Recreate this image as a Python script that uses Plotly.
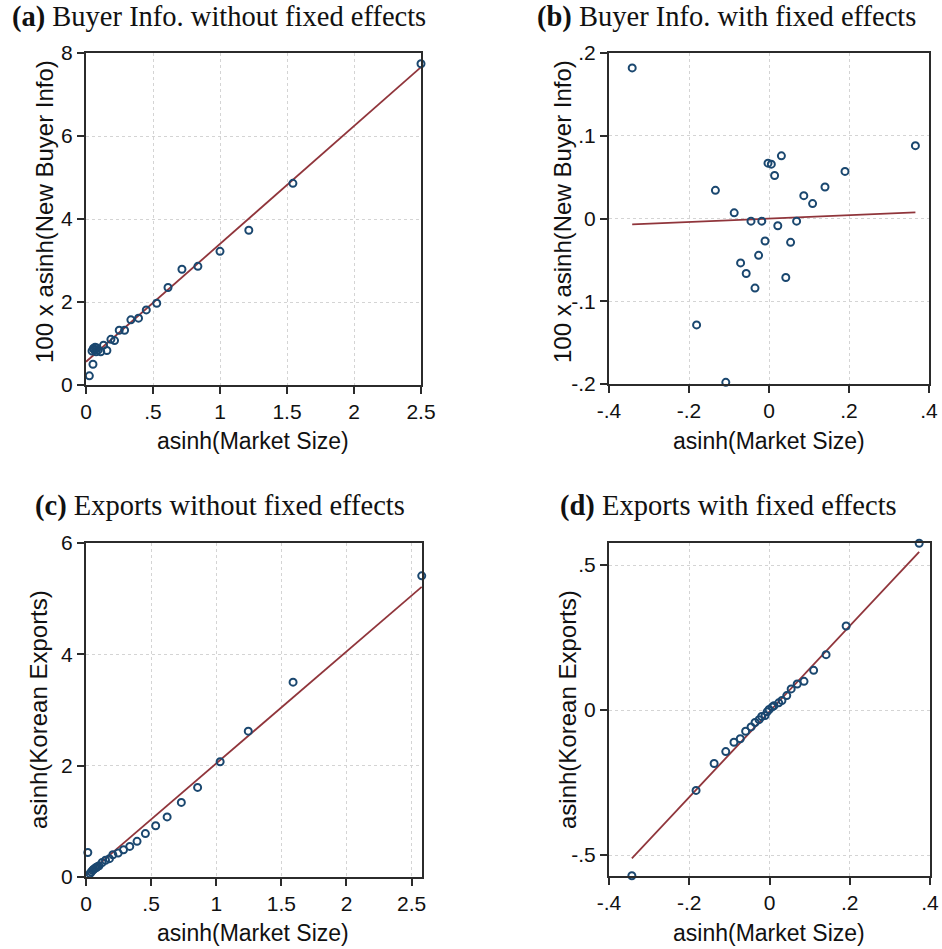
import numpy as np
import plotly.graph_objects as go

# ---------------- data ----------------
# (a) Buyer Info. without fixed effects
a_x = [0.025, 0.052, 0.045, 0.055, 0.062, 0.068, 0.075, 0.082, 0.090, 0.110, 0.131, 0.156,
       0.186, 0.213, 0.248, 0.288, 0.335, 0.392, 0.450, 0.528, 0.612, 0.716, 0.835, 1.000,
       1.215, 1.544, 2.500]
a_y = [0.22, 0.50, 0.82, 0.88, 0.85, 0.91, 0.80, 0.89, 0.84, 0.80, 0.96, 0.83,
       1.10, 1.07, 1.32, 1.32, 1.57, 1.61, 1.81, 1.97, 2.35, 2.79, 2.86, 3.22,
       3.73, 4.86, 7.74]
a_fit = (0.56, 2.84)          # intercept, slope
a_fit_x = (0.0, 2.5)

# (b) Buyer Info. with fixed effects
b_x = [-0.342, -0.181, -0.134, -0.108, -0.087, -0.071, -0.057, -0.045, -0.035, -0.026,
       -0.018, -0.0099, -0.0025, 0.0058, 0.014, 0.022, 0.031, 0.042, 0.054, 0.069,
       0.087, 0.109, 0.140, 0.190, 0.366]
b_y = [0.182, -0.1286, 0.034, -0.198, 0.0068, -0.0537, -0.0665, -0.0032, -0.0841, -0.0445,
       -0.0032, -0.0272, 0.0669, 0.0657, 0.052, -0.0088, 0.0757, -0.0713, -0.0288, -0.0032,
       0.0276, 0.018, 0.038, 0.0569, 0.088]
b_fit = (-0.0002, 0.0205)
b_fit_x = (-0.342, 0.366)

# (c) Exports without fixed effects
c_x = [0.014, 0.030, 0.040, 0.050, 0.060, 0.070, 0.080, 0.090, 0.100, 0.124, 0.150, 0.180,
       0.206, 0.247, 0.288, 0.336, 0.392, 0.456, 0.535, 0.623, 0.732, 0.857, 1.030, 1.246,
       1.590, 2.578]
c_y = [0.44, 0.06, 0.09, 0.12, 0.14, 0.16, 0.17, 0.19, 0.20, 0.26, 0.30, 0.33,
       0.40, 0.43, 0.49, 0.55, 0.64, 0.78, 0.92, 1.08, 1.34, 1.61, 2.07, 2.62,
       3.50, 5.41]
c_fit = (0.03, 2.01)
c_fit_x = (0.0, 2.578)

# (d) Exports with fixed effects
d_x = [-0.343, -0.183, -0.138, -0.109, -0.0886, -0.0729, -0.0595, -0.046, -0.036, -0.026,
       -0.0195, -0.011, -0.006, -0.001, 0.007, 0.011, 0.023, 0.031, 0.043, 0.054,
       0.069, 0.086, 0.110, 0.141, 0.191, 0.373]
d_y = [-0.571, -0.277, -0.184, -0.143, -0.111, -0.099, -0.073, -0.058, -0.043, -0.033,
       -0.022, -0.019, -0.006, 0.002, 0.011, 0.015, 0.025, 0.033, 0.050, 0.073,
       0.090, 0.099, 0.137, 0.191, 0.290, 0.575]
d_fit = (-0.005, 1.476)
d_fit_x = (-0.343, 0.373)

titles = ["<b>(a)</b> Buyer Info. without fixed effects",
          "<b>(b)</b> Buyer Info. with fixed effects",
          "<b>(c)</b> Exports without fixed effects",
          "<b>(d)</b> Exports with fixed effects"]
x_title = "asinh(Market Size)"
y_titles = ["100 x asinh(New Buyer Info)", "100 x asinh(New Buyer Info)",
            "asinh(Korean Exports)", "asinh(Korean Exports)"]

xt_pos = [0, 0.5, 1, 1.5, 2, 2.5]
xt_pos_lbl = ["0", ".5", "1", "1.5", "2", "2.5"]
xt_fe = [-0.4, -0.2, 0, 0.2, 0.4]
xt_fe_lbl = ["-.4", "-.2", "0", ".2", ".4"]
yt_a = [0, 2, 4, 6, 8]
yt_a_lbl = ["0", "2", "4", "6", "8"]
yt_b = [-0.2, -0.1, 0, 0.1, 0.2]
yt_b_lbl = ["-.2", "-.1", "0", ".1", ".2"]
yt_c = [0, 2, 4, 6]
yt_c_lbl = ["0", "2", "4", "6"]
yt_d = [-0.5, 0, 0.5]
yt_d_lbl = ["-.5", "0", ".5"]

# ---------------- figure ----------------
W, H = 942, 949
MARK = "#1a476f"
FIT = "#90353b"
AXC = "#2b2b2b"
TICKFONT = dict(family="Liberation Sans, Arial", size=21, color="#111111")

def px_dom_x(a, b):
    return [a / W, b / W]

def px_dom_y(top, bot):
    return [1 - bot / H, 1 - top / H]

panels = [
    dict(x=a_x, y=a_y, fit=a_fit, fx=a_fit_x, xd=px_dom_x(86, 421), yd=px_dom_y(53, 385),
         xr=[0, 2.5], yr=[0, 8], xt=(xt_pos, xt_pos_lbl), yt=(yt_a, yt_a_lbl)),
    dict(x=b_x, y=b_y, fit=b_fit, fx=b_fit_x, xd=px_dom_x(609, 929), yd=px_dom_y(53, 384),
         xr=[-0.4, 0.4], yr=[-0.2, 0.2], xt=(xt_fe, xt_fe_lbl), yt=(yt_b, yt_b_lbl)),
    dict(x=c_x, y=c_y, fit=c_fit, fx=c_fit_x, xd=px_dom_x(86, 422), yd=px_dom_y(543, 877),
         xr=[0, 2.58], yr=[0, 6], xt=(xt_pos, xt_pos_lbl), yt=(yt_c, yt_c_lbl)),
    dict(x=d_x, y=d_y, fit=d_fit, fx=d_fit_x, xd=px_dom_x(609, 930), yd=px_dom_y(543, 876),
         xr=[-0.4, 0.4], yr=[-0.572, 0.576], xt=(xt_fe, xt_fe_lbl), yt=(yt_d, yt_d_lbl)),
]

fig = go.Figure()
layout = dict(width=W, height=H, margin=dict(l=0, r=0, t=0, b=0, autoexpand=False),
              paper_bgcolor="white", plot_bgcolor="white", showlegend=False)

for i, p in enumerate(panels):
    k = "" if i == 0 else str(i + 1)
    xa, ya = "x" + k, "y" + k
    fx = np.array(p["fx"])
    fy = p["fit"][0] + p["fit"][1] * fx
    fig.add_trace(go.Scatter(x=fx, y=fy, mode="lines", xaxis=xa, yaxis=ya,
                             line=dict(color=FIT, width=1.8), hoverinfo="skip"))
    fig.add_trace(go.Scatter(x=p["x"], y=p["y"], mode="markers", xaxis=xa, yaxis=ya,
                             cliponaxis=False,
                             marker=dict(symbol="circle-open", size=7, color=MARK,
                                         line=dict(width=2, color=MARK))))
    common = dict(showline=True, linecolor=AXC, linewidth=2, mirror=True,
                  ticks="outside", ticklen=7, tickwidth=1.5, tickcolor=AXC,
                  showgrid=True, gridcolor="#d4d4d4", gridwidth=1, griddash="dot",
                  zeroline=False, tickfont=TICKFONT, fixedrange=True, automargin=False)
    layout["xaxis" + k] = dict(common, domain=p["xd"], range=p["xr"], anchor=ya,
                               tickvals=p["xt"][0], ticktext=p["xt"][1])
    layout["yaxis" + k] = dict(common, domain=p["yd"], range=p["yr"], anchor=xa,
                               tickvals=p["yt"][0], ticktext=p["yt"][1])

fig.update_layout(**layout)

ann = []
title_pos = [(10, 17), (535, 17), (33, 506), (558, 506)]
for t, (x0, y0) in zip(titles, title_pos):
    ann.append(dict(text=t, x=x0 / W, y=1 - y0 / H, xref="paper", yref="paper",
                    xanchor="left", yanchor="middle", showarrow=False,
                    font=dict(family="Liberation Serif, Times New Roman", size=28.5, color="#111111")))
xt_pos_px = [(253, 441), (769, 441), (253, 933), (769, 933)]
for (x0, y0) in xt_pos_px:
    ann.append(dict(text=x_title, x=x0 / W, y=1 - y0 / H, xref="paper", yref="paper",
                    xanchor="center", yanchor="middle", showarrow=False,
                    font=dict(family="Liberation Sans, Arial", size=23, color="#111111")))
yt_pos_px = [(45, 212), (563, 212), (38, 710), (567, 710)]
for t, (x0, y0) in zip(y_titles, yt_pos_px):
    ann.append(dict(text=t, x=x0 / W, y=1 - y0 / H, xref="paper", yref="paper",
                    xanchor="center", yanchor="middle", showarrow=False, textangle=-90,
                    font=dict(family="Liberation Sans, Arial", size=24, color="#111111")))
fig.update_layout(annotations=ann)

fig.write_html("out.html", config={"displayModeBar": False},
               post_script="document.body.style.margin='0';document.body.style.overflow='hidden';")
